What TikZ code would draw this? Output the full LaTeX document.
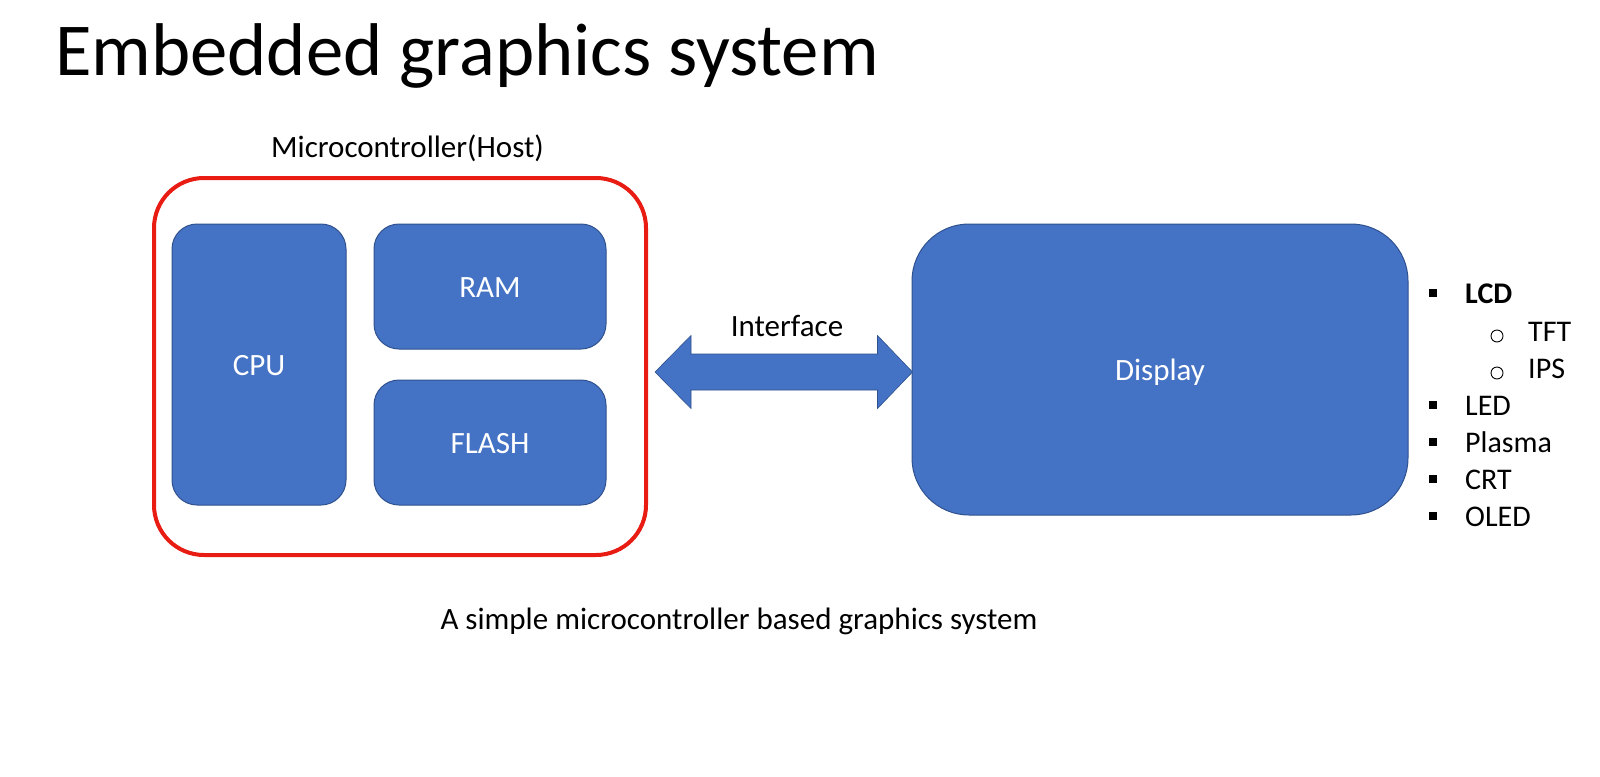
\documentclass[tikz,border=0pt]{standalone}
\usepackage{fontspec}
\setmainfont{Carlito}
\usetikzlibrary{calc}
\definecolor{boxblue}{RGB}{68,114,196}
\definecolor{boxedge}{RGB}{47,82,143}
\definecolor{hostred}{RGB}{232,28,18}
\tikzset{
  bluebox/.style={draw=boxedge,line width=1pt,fill=boxblue,rounded corners=25pt,inner sep=0pt},
  boxlabel/.style={text=white,font=\fontsize{31}{37}\selectfont,inner sep=0pt,anchor=base},
  hostbox/.style={draw=hostred,line width=4pt,rounded corners=50pt,inner sep=0pt},
  bodytext/.style={font=\fontsize{31}{37}\selectfont,inner sep=0pt,text=black},
  listtext/.style={font=\fontsize{30}{36}\selectfont,inner sep=0pt,anchor=base west},
  sqbullet/.style={fill=black,minimum size=8pt,inner sep=0pt},
  circbullet/.style={circle,draw=black,line width=0.9pt,minimum size=12pt,inner sep=0pt},
  ifarrow/.style={fill=boxblue,draw=boxedge,line width=0.6pt}
}
\begin{document}
\begin{tikzpicture}[x=1pt,y=-1pt]
\useasboundingbox[fill=white] (0,0) rectangle (1600,776);
% title
\node[anchor=base west,inner sep=0pt,font=\fontsize{74.7}{88}\selectfont] (title) at (55,75) {Embedded graphics system};
% host
\node[bodytext,anchor=base] (hostlabel) at (407.5,157) {Microcontroller(Host)};
\node[hostbox,minimum width=492pt,minimum height=377pt] (host) at (400,366.5) {};
\node[bluebox,minimum width=174pt,minimum height=281pt] (cpu) at (259,364.5) {};
\node[bluebox,minimum width=232pt,minimum height=125pt] (ram) at (490,286.5) {};
\node[bluebox,minimum width=232pt,minimum height=125pt] (flash) at (490,442.5) {};
\node[boxlabel] (cpulabel) at ($(cpu.center)+(0,10.5)$) {CPU};
\node[boxlabel] (ramlabel) at ($(ram.center)+(0,10.5)$) {RAM};
\node[boxlabel] (flashlabel) at ($(flash.center)+(0,10.5)$) {FLASH};
% display
\node[bluebox,rounded corners=57pt,minimum width=496pt,minimum height=291pt] (display) at (1160,369.5) {};
\node[boxlabel] (displaylabel) at ($(display.center)+(0,10.5)$) {Display};
% interface arrow
\coordinate (ifL) at ($(host.east)+(7,5.5)$);
\coordinate (ifR) at ($(display.west)+(1,2.5)$);
\draw[ifarrow] let \p1=(ifL), \p2=(ifR) in
  (\x1,\y1) -- (\x1+36pt,\y1+36.5pt) -- (\x1+36pt,\y1+18pt) -- (\x2-35pt,\y1+18pt)
  -- (\x2-35pt,\y1+36.5pt) -- (\x2,\y1) -- (\x2-35pt,\y1-36.5pt) -- (\x2-35pt,\y1-18pt)
  -- (\x1+36pt,\y1-18pt) -- (\x1+36pt,\y1-36.5pt) -- cycle;
\node[bodytext,anchor=base] (iflabel) at (787,336) {Interface};
% list
\node[sqbullet] (b1) at (1433,293) {};
\node[listtext,font=\fontsize{30}{36}\selectfont\bfseries] (lcd) at (1465,303) {LCD};
\node[circbullet] (c1) at (1497,336) {};
\node[listtext] (tft) at (1528,341) {TFT};
\node[circbullet] (c2) at (1497,373) {};
\node[listtext] (ips) at (1528,378) {IPS};
\node[sqbullet] (b2) at (1433,405) {};
\node[listtext] (led) at (1465,415) {LED};
\node[sqbullet] (b3) at (1433,442) {};
\node[listtext] (plasma) at (1465,452) {Plasma};
\node[sqbullet] (b4) at (1433,479) {};
\node[listtext] (crt) at (1465,489) {CRT};
\node[sqbullet] (b5) at (1433,516) {};
\node[listtext] (oled) at (1465,526) {OLED};
% caption
\node[bodytext,anchor=base] (caption) at (739,629) {A simple microcontroller based graphics system};
\end{tikzpicture}
\end{document}
